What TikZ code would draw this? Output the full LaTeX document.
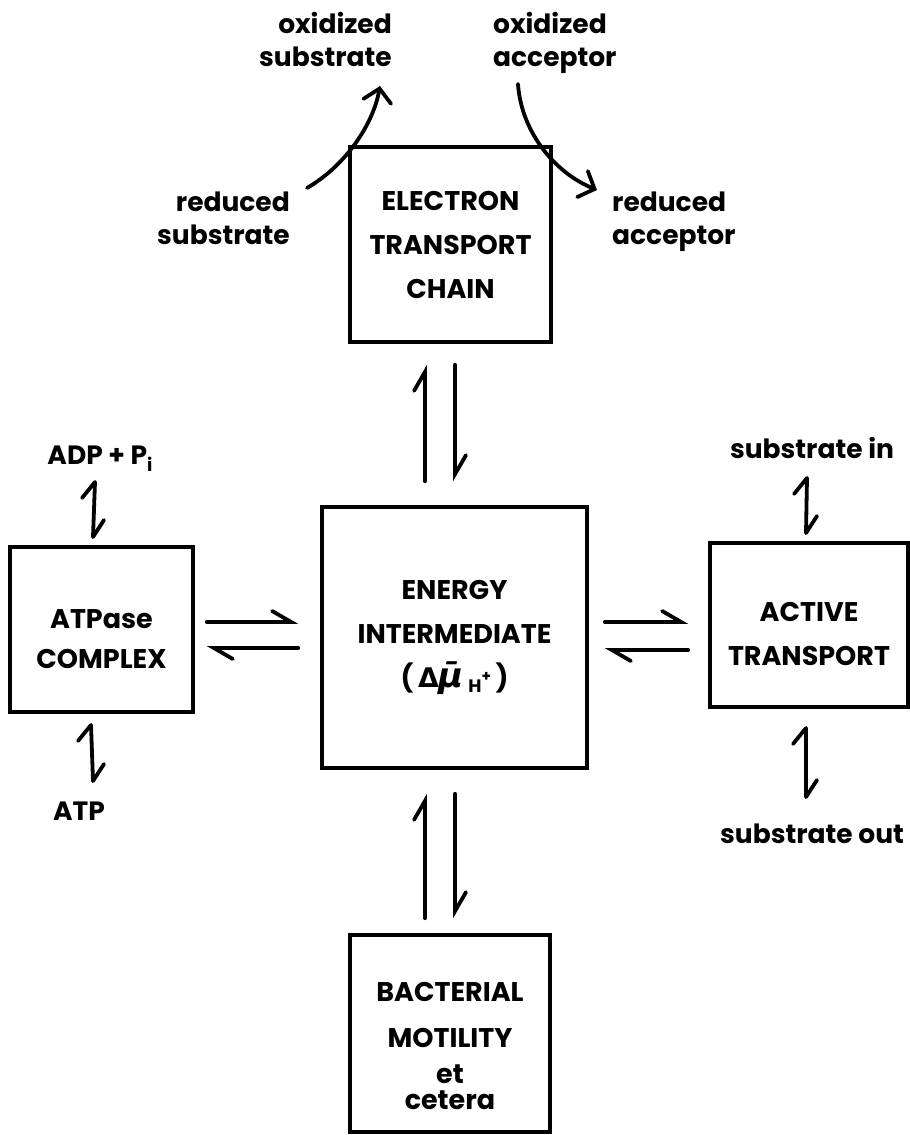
\documentclass[tikz,border=0pt]{standalone}
\usepackage{fontspec}
\setmainfont{Poppins}
\newfontfamily\greekfont{DejaVu Sans}
\usetikzlibrary{arrows.meta,calc}
\begin{document}
\begin{tikzpicture}[x=1pt,y=-1pt,
  box/.style={draw,line width=3.6pt,rectangle,inner sep=0pt,align=center,
    font=\bfseries\fontsize{27}{44}\selectfont},
  lbl/.style={inner sep=0pt,font=\bfseries\fontsize{26.5}{33}\selectfont},
  conn/.style={line width=3.8pt,line cap=round,line join=round},
  harp/.style={conn,-{Straight Barb[left,length=19pt,width=22pt,line cap=round]}},
  curv/.style={conn,-{Straight Barb[length=13pt,width=28pt,line cap=round]}}]
\useasboundingbox (0,0) rectangle (910,1135);

% boxes
\node[box,minimum width=201pt,minimum height=195pt] (etc) at (450.5,244.5)
  {ELECTRON\\TRANSPORT\\CHAIN};
\node[box,minimum width=265pt,minimum height=261pt] (ei) at (454.5,637.5)
  {ENERGY\\INTERMEDIATE\\(\,{\greekfont Δ\itshape\fontsize{34}{34}\selectfont μ̄}\,\raisebox{-5pt}{\fontsize{18}{18}\selectfont H\raisebox{11pt}{\fontsize{15}{15}\selectfont +}}\,)};
\node[box,minimum width=200pt,minimum height=197pt,font=\bfseries\fontsize{27}{38}\selectfont] (bm) at (450,1033.5)
  {\rule{0pt}{45pt}BACTERIAL\\[8pt]MOTILITY\\[-2pt]et\\[-12pt]cetera};
\node[box,minimum width=183pt,minimum height=165pt,font=\bfseries\fontsize{27}{40}\selectfont] (atp) at (101.5,629.5)
  {\rule{0pt}{39pt}ATPase\\COMPLEX};
\node[box,minimum width=198pt,minimum height=164pt,font=\bfseries\fontsize{27}{44}\selectfont] (at) at (809,625)
  {\rule{0pt}{37pt}ACTIVE\\TRANSPORT};

% labels
\node[lbl,anchor=north east,align=right] (oxsub) at (392,12) {oxidized\\substrate};
\node[lbl,anchor=north west,align=left] (oxacc) at (493,12) {oxidized\\acceptor};
\node[lbl,anchor=north east,align=right] (redsub) at (290,192) {reduced\\substrate};
\node[lbl,anchor=north west,align=left] (redacc) at (612,192) {reduced\\acceptor};
\node[lbl,anchor=base] (adp) at (100,464) {ADP + P\raisebox{-7pt}{\fontsize{18}{18}\selectfont i}};
\node[lbl,anchor=base] (atpl) at (79,820) {ATP};
\node[lbl,anchor=base] (sin) at (812,458) {substrate in};
\node[lbl,anchor=base] (sout) at (812,843) {substrate out};

% curved arrows at the electron transport chain
\coordinate (c1) at (307,188);
\coordinate (c2) at (380,86);
\coordinate (c3) at (518,84);
\coordinate (c4) at (597,190);
\draw[curv] (c1) .. controls (345,166) and (373,125) .. (c2);
\draw[curv] (c3) .. controls (521,130) and (553,172) .. (c4);

% big equilibrium arrows
\draw[harp] ([xshift=-29.5pt,yshift=24pt]ei.north) -- ([xshift=-25.5pt,yshift=-21pt]etc.south);
\draw[harp] ([xshift=4.5pt,yshift=-21pt]etc.south) -- ([xshift=0.5pt,yshift=24pt]ei.north);
\draw[harp] ([xshift=-25pt,yshift=15pt]bm.north) -- ([xshift=-29.5pt,yshift=-24pt]ei.south);
\draw[harp] ([xshift=0.5pt,yshift=-24pt]ei.south) -- ([xshift=5pt,yshift=15pt]bm.north);
\draw[harp] ([xshift=12pt,yshift=7.5pt]atp.east) -- ([xshift=-22pt,yshift=15.5pt]ei.west);
\draw[harp] ([xshift=-22pt,yshift=-10.5pt]ei.west) -- ([xshift=12pt,yshift=-18.5pt]atp.east);
\draw[harp] ([xshift=16pt,yshift=15.5pt]ei.east) -- ([xshift=-20pt,yshift=3pt]at.west);
\draw[harp] ([xshift=-20pt,yshift=-25pt]at.west) -- ([xshift=16pt,yshift=-12.5pt]ei.east);

% small equilibrium marks
\coordinate (a1) at (95,482); \coordinate (a2) at (93,537);
\coordinate (b1) at (91,725); \coordinate (b2) at (93,781);
\coordinate (s1) at (807,478); \coordinate (s2) at (806,533);
\coordinate (t1) at (806,728); \coordinate (t2) at (806,797);
\foreach \u/\v in {a1/a2,b1/b2,s1/s2,t1/t2}{
  \draw[conn] ($(\u)+(-13,16)$) -- (\u) -- (\v) -- ($(\v)+(11,-17)$);
}
\end{tikzpicture}
\end{document}
